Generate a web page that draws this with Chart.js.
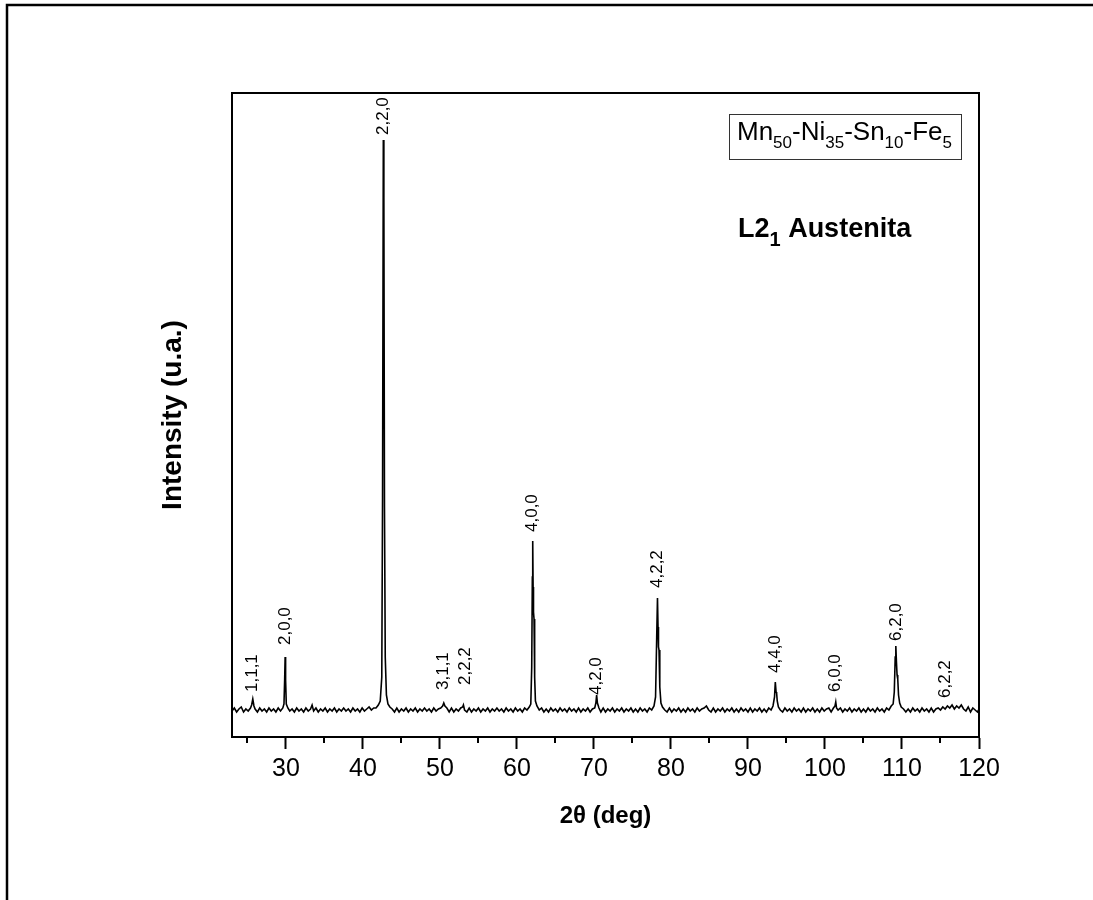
<!DOCTYPE html>
<html>
<head>
<meta charset="utf-8">
<script src="https://cdn.jsdelivr.net/npm/chart.js@4.4.1/dist/chart.umd.min.js"></script>
<style>
  html, body { margin: 0; padding: 0; background: #fff; }
  #wrap { width: 1093px; height: 900px; }
</style>
</head>
<body>
<div id="wrap"><canvas id="xrd" width="1093" height="900"></canvas></div>
<script>
// Difractograma (2θ, intensidade)
const xrdScan = [
  [23.0,26],[23.3,29],[23.6,25],[23.9,28],[24.2,30],[24.5,25],[24.8,28],[25.1,26],[25.4,29],[25.55,32],
  [25.7,38],[25.85,31],[26.0,28],[26.3,25],[26.6,29],[26.9,26],[27.2,28],[27.5,25],[27.8,29],[28.1,26],
  [28.4,28],[28.7,25],[29.0,29],[29.3,26],[29.6,29],[29.75,33],[29.84,58],[29.9,80],[29.96,57],[30.05,33],
  [30.25,29],[30.5,26],[30.8,28],[31.1,25],[31.4,29],[31.7,26],[32.0,28],[32.3,25],[32.6,29],[32.9,26],
  [33.2,28],[33.4,32],[33.6,26],[33.9,29],[34.2,25],[34.5,28],[34.8,26],[35.1,29],[35.4,25],[35.7,28],
  [36.0,26],[36.3,29],[36.6,25],[36.9,28],[37.2,26],[37.5,29],[37.8,26],[38.1,28],[38.4,25],[38.7,29],
  [39.0,26],[39.3,28],[39.6,25],[39.9,29],[40.2,26],[40.5,28],[40.8,30],[41.1,27],[41.4,29],[41.7,29],
  [42.0,32],[42.25,36],[42.45,60],[42.55,240],[42.65,597],[42.72,540],[42.8,230],[42.9,80],[43.05,42],[43.25,33],
  [43.5,30],[43.8,28],[44.1,25],[44.4,29],[44.7,25],[45.0,28],[45.3,26],[45.6,29],[45.9,25],[46.2,28],
  [46.5,26],[46.8,29],[47.1,25],[47.4,28],[47.7,26],[48.0,29],[48.3,26],[48.6,28],[48.9,25],[49.2,29],
  [49.5,26],[49.8,28],[50.1,29],[50.35,31],[50.5,34],[50.65,31],[50.9,29],[51.2,25],[51.5,29],[51.8,25],
  [52.1,28],[52.4,26],[52.7,29],[52.95,30],[53.05,32],[53.2,27],[53.5,25],[53.8,29],[54.1,25],[54.4,28],
  [54.7,26],[55.0,29],[55.3,25],[55.6,28],[55.9,26],[56.2,29],[56.5,25],[56.8,28],[57.1,26],[57.4,29],
  [57.7,26],[58.0,28],[58.3,25],[58.6,29],[58.9,26],[59.2,28],[59.5,25],[59.8,29],[60.1,26],[60.4,28],
  [60.7,25],[61.0,29],[61.3,27],[61.6,30],[61.8,33],[61.92,70],[62.0,160],[62.05,196],[62.1,150],[62.15,125],
  [62.22,118],[62.3,60],[62.4,36],[62.6,31],[62.9,27],[63.2,29],[63.5,25],[63.8,28],[64.1,25],[64.4,29],
  [64.7,26],[65.0,28],[65.3,25],[65.6,29],[65.9,26],[66.2,28],[66.5,25],[66.8,29],[67.1,26],[67.4,28],
  [67.7,25],[68.0,29],[68.3,25],[68.6,28],[68.9,26],[69.2,29],[69.5,25],[69.8,28],[70.1,29],[70.25,34],
  [70.35,42],[70.45,34],[70.65,29],[70.9,25],[71.2,29],[71.5,25],[71.8,28],[72.1,26],[72.4,29],[72.7,25],
  [73.0,28],[73.3,26],[73.6,29],[73.9,25],[74.2,28],[74.5,26],[74.8,29],[75.1,25],[75.4,28],[75.7,25],
  [76.0,29],[76.3,26],[76.6,28],[76.9,25],[77.2,29],[77.5,27],[77.8,31],[78.0,40],[78.15,100],[78.25,139],
  [78.32,110],[78.38,90],[78.45,87],[78.55,50],[78.7,34],[78.9,30],[79.2,27],[79.5,25],[79.8,29],[80.1,25],
  [80.4,28],[80.7,26],[81.0,29],[81.3,25],[81.6,28],[81.9,25],[82.2,29],[82.5,26],[82.8,28],[83.1,25],
  [83.4,29],[83.7,26],[84.0,28],[84.3,29],[84.6,31],[84.9,27],[85.2,25],[85.5,29],[85.8,25],[86.1,28],
  [86.4,26],[86.7,29],[87.0,25],[87.3,28],[87.6,26],[87.9,29],[88.2,25],[88.5,28],[88.8,25],[89.1,29],
  [89.4,26],[89.7,28],[90.0,25],[90.3,29],[90.6,25],[90.9,28],[91.2,26],[91.5,29],[91.8,25],[92.1,28],
  [92.4,25],[92.7,29],[93.0,27],[93.25,31],[93.45,40],[93.55,55],[93.65,45],[93.72,44],[93.8,36],[93.95,30],
  [94.2,27],[94.5,25],[94.8,29],[95.1,26],[95.4,28],[95.7,25],[96.0,29],[96.3,26],[96.6,28],[96.9,25],
  [97.2,29],[97.5,25],[97.8,28],[98.1,26],[98.4,29],[98.7,25],[99.0,28],[99.3,25],[99.6,29],[99.9,26],
  [100.2,28],[100.5,29],[100.8,25],[101.1,29],[101.3,31],[101.4,35],[101.5,29],[101.7,27],[102.0,29],[102.3,25],
  [102.6,28],[102.9,26],[103.2,29],[103.5,25],[103.8,28],[104.1,26],[104.4,29],[104.7,25],[105.0,28],[105.3,25],
  [105.6,29],[105.9,26],[106.2,28],[106.5,25],[106.8,29],[107.1,26],[107.4,28],[107.7,25],[108.0,29],[108.3,27],
  [108.6,31],[108.85,33],[109.0,45],[109.12,80],[109.2,91],[109.28,75],[109.36,62],[109.45,58],[109.55,42],[109.7,34],
  [109.9,30],[110.2,28],[110.5,25],[110.8,28],[111.1,25],[111.4,29],[111.7,26],[112.0,28],[112.3,25],[112.6,29],
  [112.9,26],[113.2,28],[113.5,25],[113.8,29],[114.1,25],[114.4,28],[114.7,29],[115.0,27],[115.3,30],[115.6,28],
  [115.9,31],[116.2,29],[116.5,32],[116.8,28],[117.1,31],[117.4,29],[117.7,32],[118.0,28],[118.3,26],[118.6,30],
  [118.9,25],[119.2,29],[119.5,27],[119.8,25],[120.0,28]
];

// Índices de Miller e onde ficam os rótulos (2θ, intensidade na base do texto)
const peakLabels = ['1,1,1', '2,0,0', '2,2,0', '3,1,1', '2,2,2', '4,0,0', '4,2,0', '4,2,2', '4,4,0', '6,0,0', '6,2,0', '6,2,2'];
const peakPos    = [25.7, 29.9, 42.65, 50.45, 53.3, 62.05, 70.35, 78.25, 93.6, 101.4, 109.2, 115.6];
const labelBase  = [45, 92, 602, 47, 52, 205, 42, 149, 64, 45, 96, 39];

const xTicks = [30, 40, 50, 60, 70, 80, 90, 100, 110, 120];
const xMinorTicks = [25, 35, 45, 55, 65, 75, 85, 95, 105, 115];

const FONT = "'Liberation Sans', Arial, sans-serif";

// desenha texto com subscritos: runs = [[texto, ehSub], ...]
function drawRuns(ctx, runs, x, y, size, subSize, subDrop, bold) {
  let cx = x;
  runs.forEach(([txt, sub]) => {
    ctx.font = (bold ? 'bold ' : '') + (sub ? subSize : size) + 'px ' + FONT;
    ctx.fillText(txt, cx, sub ? y + subDrop : y);
    cx += ctx.measureText(txt).width;
  });
}

const decorPlugin = {
  id: 'decor',
  afterDraw(chart) {
    const { ctx, chartArea: a, scales: { x, y } } = chart;
    ctx.save();

    // moldura externa (só topo e esquerda)
    ctx.strokeStyle = '#000';
    ctx.lineWidth = 2.5;
    ctx.beginPath();
    ctx.moveTo(7, 900);
    ctx.lineTo(7, 5);
    ctx.lineTo(1093, 5);
    ctx.stroke();

    // lados de cima e da direita do gráfico
    ctx.lineWidth = 2;
    ctx.beginPath();
    ctx.moveTo(a.left - 1, a.top);
    ctx.lineTo(a.right, a.top);
    ctx.lineTo(a.right, a.bottom + 1);
    ctx.stroke();

    // ticks menores
    xMinorTicks.forEach(v => {
      const px = Math.round(x.getPixelForValue(v));
      ctx.beginPath();
      ctx.moveTo(px, a.bottom);
      ctx.lineTo(px, a.bottom + 6);
      ctx.stroke();
    });

    // rótulos dos picos
    ctx.fillStyle = '#000';
    ctx.font = '17px ' + FONT;
    ctx.textAlign = 'left';
    ctx.textBaseline = 'middle';
    peakLabels.forEach((t, i) => {
      ctx.save();
      ctx.translate(x.getPixelForValue(peakPos[i]), y.getPixelForValue(labelBase[i]));
      ctx.rotate(-Math.PI / 2);
      ctx.fillText(t, 0, 0);
      ctx.restore();
    });

    // caixa com a composição
    ctx.textBaseline = 'alphabetic';
    ctx.strokeStyle = '#333';
    ctx.lineWidth = 1;
    ctx.strokeRect(729.5, 114.5, 232, 45);
    drawRuns(ctx, [['Mn', false], ['50', true], ['-Ni', false], ['35', true], ['-Sn', false], ['10', true], ['-Fe', false], ['5', true]],
      737, 140, 26, 17, 8, false);

    // fase
    drawRuns(ctx, [['L2', false], ['1', true], [' Austenita', false]], 738, 237, 27, 20, 9, true);

    ctx.restore();
  }
};

new Chart(document.getElementById('xrd'), {
  type: 'line',
  data: {
    datasets: [{
      data: xrdScan,
      borderColor: '#000',
      borderWidth: 1.6,
      pointRadius: 0,
      tension: 0,
      fill: false
    }]
  },
  options: {
    responsive: false,
    animation: false,
    layout: { padding: { left: 150, top: 93, right: 114, bottom: 60 } },
    plugins: { legend: { display: false }, tooltip: { enabled: false } },
    scales: {
      x: {
        type: 'linear',
        min: 23,
        max: 120,
        afterBuildTicks: s => { s.ticks = xTicks.map(v => ({ value: v })); },
        afterFit: s => { s.height = 103; },
        grid: { display: true, drawOnChartArea: false, tickLength: 12, tickWidth: 2, tickColor: '#000' },
        border: { display: true, color: '#000', width: 2 },
        ticks: { color: '#000', padding: 5, maxRotation: 0, font: { family: FONT, size: 25 } },
        title: {
          display: true,
          text: '2θ (deg)',
          color: '#000',
          padding: { top: 0, bottom: 9 },
          font: { family: FONT, size: 24, weight: 'bold' }
        }
      },
      y: {
        min: 0,
        max: 644,
        afterFit: s => { s.width = 82; },
        grid: { display: false },
        border: { display: true, color: '#000', width: 2 },
        ticks: { display: false },
        title: {
          display: true,
          text: 'Intensity (u.a.)',
          color: '#000',
          padding: { top: 6, bottom: 0 },
          font: { family: FONT, size: 28, weight: 'bold' }
        }
      }
    }
  },
  plugins: [decorPlugin]
});
</script>
</body>
</html>
